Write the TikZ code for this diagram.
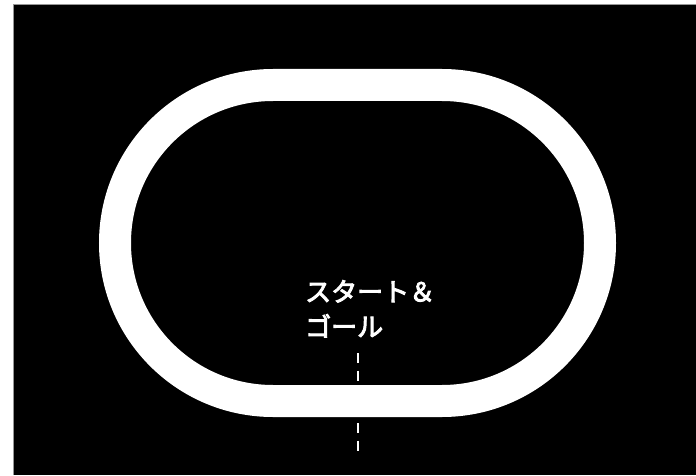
\documentclass[tikz,border=0pt]{standalone}
\usepackage{fontspec}
\newfontfamily\jpfont{Noto Sans CJK JP}[FakeBold=3.5]
\definecolor{framegrey}{RGB}{150,150,150}
\tikzset{
  track/.style={draw=white, line width=32pt},
  startline/.style={draw=white, line width=2pt, dash pattern=on 10pt off 7.5pt},
  lbl/.style={text=white, font=\jpfont\fontsize{26pt}{35pt}\selectfont, align=left, inner sep=0pt, anchor=north west}
}
\begin{document}
\begin{tikzpicture}[x=1pt,y=1pt]
\useasboundingbox (0,0) rectangle (696,475);
\fill[white] (0,0) rectangle (696,475);
\fill[black] (13,0) rectangle (696,471);
\draw[framegrey, line width=1pt] (13.5,0) -- (13.5,470.5) -- (696,470.5);
% track
\draw[track] (273,390) -- (442,390) arc[start angle=90, end angle=-90, radius=158] -- (273,74) arc[start angle=270, end angle=90, radius=158] -- cycle;
% start line
\coordinate (s1) at (357.5,122);
\coordinate (s2) at (357.5,22);
\draw[startline] (s1) -- (s2);
\node[lbl] (label) at (305,195) {スタート＆\\ゴール};
\end{tikzpicture}
\end{document}
